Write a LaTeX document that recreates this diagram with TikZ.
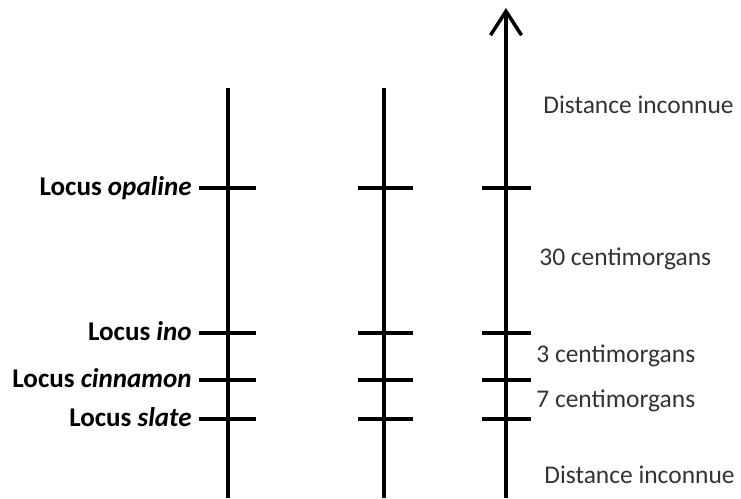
\documentclass[tikz,border=0pt]{standalone}
\usepackage{fontspec}
\setmainfont{Carlito}
\usetikzlibrary{arrows.meta}
\begin{document}
\begin{tikzpicture}[x=0.02cm, y=-0.02cm, line cap=butt, >={Straight Barb[length=0.48cm,width=0.62cm]}]
			\tikzset{every node/.style={inner sep=0pt, font=\fontsize{14.5}{17}\selectfont},
				chrom/.style={line width=0.07cm},
				locustick/.style={line width=0.078cm},
				locus/.style={anchor=base east, font=\fontsize{15.4}{18}\selectfont\bfseries},
				dist/.style={anchor=base west, text=black!80}}
			\def \ytop{88}
			\def \ybot{498}
			\useasboundingbox (0,0) rectangle (741,498);
			
			\path 
			(228,\ytop) coordinate (Atop) (228,\ybot) coordinate (Abot)
			(384,\ytop) coordinate (Btop) (384,\ybot) coordinate (Bbot)
			(506,8) coordinate (Ctop) (506,\ybot) coordinate (Cbot)
			;
			\draw[chrom] (Abot)--(Atop);
			\draw[chrom] (Bbot)--(Btop);
			\draw[chrom,->] (Cbot)--(Ctop);
			
			% loci
			\foreach \l/\y in {opaline/188,ino/333,cinnamon/380,slate/419}{
				\draw[locustick] (199,\y) coordinate (A\l) -- (256,\y);
				\draw[locustick] (358,\y) coordinate (B\l) -- (413,\y);
				\draw[locustick] (482,\y) coordinate (C\l) -- (531,\y);
				\node[locus] (lab\l) at (192,\y+7) {Locus \textit{\l}};
			}
			
			% distances
			\node[dist] (d1) at (543,113) {Distance inconnue};
			\node[dist] (d2) at (539,265) {30 centimorgans};
			\node[dist] (d3) at (536,362) {3 centimorgans};
			\node[dist] (d4) at (536,407) {7 centimorgans};
			\node[dist] (d5) at (544,483) {Distance inconnue};
		\end{tikzpicture}
\end{document}
